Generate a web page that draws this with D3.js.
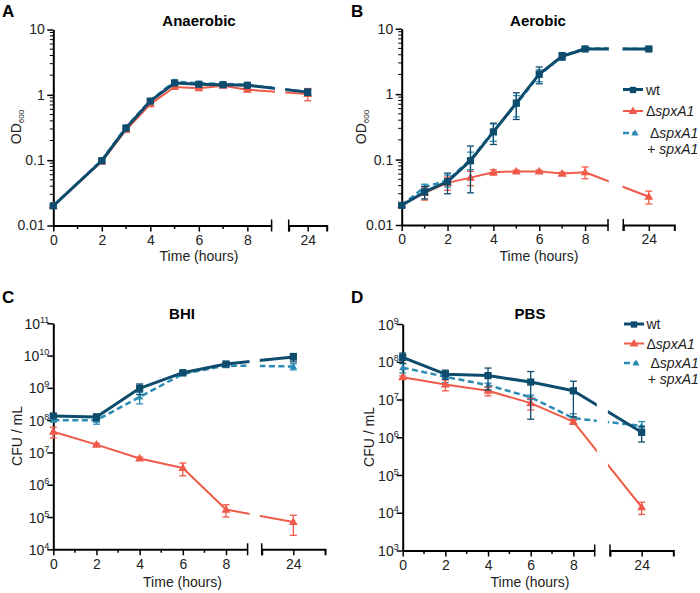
<!DOCTYPE html>
<html><head><meta charset="utf-8">
<script src="https://cdn.jsdelivr.net/npm/d3@7"></script>
<style>body{margin:0;background:#fff} svg{display:block;font-family:"Liberation Sans",Arial,Helvetica,sans-serif}</style>
</head><body><svg id="c" width="700" height="593"></svg>
<script>
// ---------------- DATA ----------------
const seriesNames = ['wt', 'ΔspxA1', 'ΔspxA1 + spxA1'];
const xMajorTicks = [0, 2, 4, 6, 8];
const xTickLabels = ['0', '2', '4', '6', '8'];
const xMinorTicks = [1, 3, 5, 7];
const xLateTicks = [24];
const xLateLabels = ['24'];
const odTicks = [0.01, 0.1, 1, 10];
const odTickLabels = ['0.01', '0.1', '1', '10'];
const bhiExponents = [4, 5, 6, 7, 8, 9, 10, 11];
const pbsExponents = [3, 4, 5, 6, 7, 8, 9];

// A: Anaerobic (OD600)
const hoursAnaerobic = [0, 2, 3, 4, 5, 6, 7, 8, 24];
const anaerobicWt = [0.02, 0.098, 0.31, 0.80, 1.52, 1.45, 1.43, 1.40, 1.10];
const anaerobicWtErr = [0.001, 0.004, 0.02, 0.04, 0.08, 0.06, 0.06, 0.06, 0.12];
const anaerobicDel = [0.02, 0.095, 0.29, 0.72, 1.32, 1.26, 1.38, 1.20, 1.03];
const anaerobicDelErr = [0.001, 0.004, 0.02, 0.04, 0.06, 0.08, 0.05, 0.08, 0.22];
const anaerobicComp = [0.02, 0.10, 0.32, 0.82, 1.60, 1.50, 1.47, 1.42, 1.10];
const anaerobicCompErr = [0.001, 0.004, 0.02, 0.04, 0.08, 0.06, 0.05, 0.06, 0.1];

// B: Aerobic (OD600)
const hoursAerobic = [0, 1, 2, 3, 4, 5, 6, 7, 8, 24];
const aerobicWt = [0.02, 0.032, 0.046, 0.096, 0.265, 0.73, 2.02, 3.8, 4.9, 4.9];
const aerobicWtErr = [0.001, 0.007, 0.016, 0.065, 0.095, 0.32, 0.58, 0.5, 0.25, 0.2];
const aerobicDel = [0.02, 0.031, 0.044, 0.053, 0.064, 0.066, 0.066, 0.061, 0.064, 0.027];
const aerobicDelErr = [0.001, 0.007, 0.01, 0.013, 0.006, 0.003, 0.003, 0.003, 0.013, 0.006];
const aerobicComp = [0.02, 0.038, 0.048, 0.10, 0.27, 0.70, 1.95, 3.8, 5.0, 4.9];
const aerobicCompErr = [0.001, 0.004, 0.01, 0.03, 0.08, 0.25, 0.4, 0.4, 0.3, 0.2];

// C: BHI (CFU / mL)
const hoursCfu = [0, 2, 4, 6, 8, 24];
const bhiWt = [1.35e8, 1.25e8, 9.7e8, 2.95e9, 5.5e9, 9.0e9];
const bhiWtErr = [2e7, 3e7, 3.5e8, 3e8, 6e8, 2.6e9];
const bhiDel = [4.4e7, 1.75e7, 6.5e6, 3.3e6, 1.7e5, 7.0e4];
const bhiDelErr = [1.6e7, 1.5e6, 6e5, 1.4e6, 7e4, 4.3e4];
const bhiComp = [1.0e8, 1.0e8, 5.2e8, 2.7e9, 4.9e9, 4.6e9];
const bhiCompErr = [1e7, 2.5e7, 2e8, 2e8, 4e8, 1e9];

// D: PBS (CFU / mL)
const pbsWt = [1.3e8, 4.7e7, 4.3e7, 2.9e7, 1.7e7, 1.35e6];
const pbsWtErr = [4e7, 1.3e7, 2.5e7, 2.6e7, 1.35e7, 6e5];
const pbsDel = [3.9e7, 2.5e7, 1.7e7, 8.0e6, 2.6e6, 1.4e4];
const pbsDelErr = [3e6, 8e6, 4.5e6, 2.7e6, 3e5, 5e3];
const pbsComp = [7.0e7, 4.0e7, 2.4e7, 1.15e7, 3.2e6, 2.0e6];
const pbsCompErr = [2e7, 1.2e7, 3e6, 1.5e6, 1e6, 6e5];

// ---------------- STYLE / LAYOUT ----------------
const COL = {wt: '#0e4c6e', del: '#f05a48', comp: '#2a8cb5'};
const FONT = 14;

const panels = [
  {letter: 'A', title: 'Anaerobic', ylab: 'OD', ysub: '600', hours: hoursAnaerobic,
   yDomain: [0.01, 10], yTicks: odTicks, yLabels: odTickLabels, minor: true,
   series: [[anaerobicComp, anaerobicCompErr, 'comp'], [anaerobicDel, anaerobicDelErr, 'del'], [anaerobicWt, anaerobicWtErr, 'wt']],
   L: {xl: 53.3, x9: 271.6, s2: [288.7, 326.7], yTop: 29.5, yBot: 225.5, letter: [2, 17], title: [199, 25.5], xlab: [199, 260.5], ylab: [21, 127], gap: 0.3}},
  {letter: 'B', title: 'Aerobic', ylab: 'OD', ysub: '600', hours: hoursAerobic,
   yDomain: [0.01, 10], yTicks: odTicks, yLabels: odTickLabels, minor: true,
   series: [[aerobicComp, aerobicCompErr, 'comp'], [aerobicDel, aerobicDelErr, 'del'], [aerobicWt, aerobicWtErr, 'wt']],
   L: {xl: 401.7, x9: 608, s2: [623.3, 674.3], yTop: 28.7, yBot: 225, letter: [351, 17], title: [538, 25.5], xlab: [539, 260.5], ylab: [366, 127], gap: 0.45,
       legend: {x: 623, tx: 646, rows: [89.5, 111, 133, 148.5]}}},
  {letter: 'C', title: 'BHI', ylab: 'CFU / mL', hours: hoursCfu,
   yDomain: [1e4, 1e11], yTicks: bhiExponents.map(e => Math.pow(10, e)), yExp: bhiExponents, minor: false,
   series: [[bhiComp, bhiCompErr, 'comp'], [bhiDel, bhiDelErr, 'del'], [bhiWt, bhiWtErr, 'wt']],
   L: {xl: 53.3, x9: 247.6, s2: [261.7, 325], yTop: 323.3, yBot: 549.3, letter: [2, 303], title: [182, 319.3], xlab: [182.5, 586.5], ylab: [21.7, 436], gap: 0.36}},
  {letter: 'D', title: 'PBS', ylab: 'CFU / mL', hours: hoursCfu,
   yDomain: [1e3, 1e9], yTicks: pbsExponents.map(e => Math.pow(10, e)), yExp: pbsExponents, minor: false,
   series: [[pbsComp, pbsCompErr, 'comp'], [pbsDel, pbsDelErr, 'del'], [pbsWt, pbsWtErr, 'wt']],
   L: {xl: 402.7, x9: 594.7, s2: [610, 673.3], yTop: 324, yBot: 550.5, letter: [351, 303], title: [530, 319], xlab: [530, 586.5], ylab: [374, 437], gap: 0.36,
       legend: {x: 624, tx: 646.5, rows: [324, 343.5, 363, 378.5]}}}
];

const svg = d3.select('#c');
const defs = svg.append('defs');

function styleKey(k) {
  if (k === 'wt') return {w: 3, dash: null, sym: d3.symbolSquare, size: 52, cap: 3.5};
  if (k === 'del') return {w: 2, dash: null, sym: d3.symbolTriangle, size: 34, cap: 3.5};
  return {w: 2.5, dash: '6,3.5', sym: d3.symbolTriangle, size: 22, cap: 3.5};
}

panels.forEach((p, pi) => {
  const L = p.L;
  const g = svg.append('g');
  const x1 = d3.scaleLinear().domain([0, 9]).range([L.xl, L.x9]);
  const x2 = d3.scaleLinear().domain([22.5, 25.5]).range(L.s2);
  const x = t => (t <= 9 ? x1(t) : x2(t));
  const y = d3.scaleLog().domain(p.yDomain).range([L.yBot, L.yTop]);

  // panel letter & title
  g.append('text').attr('x', L.letter[0]).attr('y', L.letter[1]).attr('font-size', 17).attr('font-weight', 'bold').text(p.letter);
  g.append('text').attr('x', L.title[0]).attr('y', L.title[1]).attr('text-anchor', 'middle').attr('font-size', 15).attr('font-weight', 'bold').text(p.title);

  // x axis segment 1
  const ax1 = g.append('g').attr('transform', `translate(0,${L.yBot})`)
    .call(d3.axisBottom(x1).tickValues(xMajorTicks).tickSizeInner(6).tickSizeOuter(0).tickPadding(3.5)
      .tickFormat((d, i) => xTickLabels[i]));
  const ax2 = g.append('g').attr('transform', `translate(0,${L.yBot})`)
    .call(d3.axisBottom(x2).tickValues(xLateTicks).tickSizeInner(6).tickSizeOuter(6).tickPadding(3.5)
      .tickFormat((d, i) => xLateLabels[i]));
  // minor x ticks
  g.append('g').selectAll('line').data(xMinorTicks).join('line')
    .attr('x1', d => x1(d)).attr('x2', d => x1(d)).attr('y1', L.yBot).attr('y2', L.yBot + 3.5)
    .attr('stroke', '#000').attr('stroke-width', 1.5);
  // break marks
  g.append('g').selectAll('line').data([L.x9, L.s2[0]]).join('line')
    .attr('x1', d => d).attr('x2', d => d).attr('y1', L.yBot - 6).attr('y2', L.yBot + 6)
    .attr('stroke', '#000').attr('stroke-width', 1.5);

  // y axis
  const yAxis = d3.axisLeft(y).tickValues(p.yTicks).tickSizeInner(6).tickSizeOuter(0).tickPadding(p.yExp ? 0 : 2.5);
  if (p.yLabels) yAxis.tickFormat((d, i) => p.yLabels[i]); else yAxis.tickFormat(() => '');
  const ay = g.append('g').attr('transform', `translate(${L.xl},0)`).call(yAxis);
  if (p.yExp) {
    ay.selectAll('.tick text').each(function (d, i) {
      const t = d3.select(this);
      t.text('').attr('x', -4).attr('dy', '0.36em');
      t.append('tspan').text('10');
      t.append('tspan').attr('dy', -6).attr('font-size', 9).text(p.yExp[i]);
    });
  }
  if (p.minor) {
    const minors = [];
    for (let e = -2; e < 1; e++) for (let k = 2; k <= 9; k++) minors.push(k * Math.pow(10, e));
    g.append('g').selectAll('line').data(minors).join('line')
      .attr('x1', L.xl - 3.5).attr('x2', L.xl).attr('y1', d => y(d)).attr('y2', d => y(d))
      .attr('stroke', '#000').attr('stroke-width', 1);
  }
  [ax1, ax2, ay].forEach(a => {
    a.attr('font-size', null).attr('font-family', null);
    a.select('.domain').attr('stroke-width', 2);
    a.selectAll('.tick line').attr('stroke-width', 1.5);
    a.selectAll('.tick text').attr('font-size', FONT).attr('fill', '#222');
  });

  // axis titles
  g.append('text').attr('x', L.xlab[0]).attr('y', L.xlab[1]).attr('text-anchor', 'middle').attr('font-size', FONT).attr('fill', '#222').text('Time (hours)');
  const yl = g.append('text').attr('transform', `translate(${L.ylab[0]},${L.ylab[1]}) rotate(-90)`).attr('text-anchor', 'middle').attr('font-size', FONT).attr('fill', '#222');
  yl.append('tspan').text(p.ylab);
  if (p.ysub) yl.append('tspan').attr('font-size', 8).attr('dy', 3).text(p.ysub);

  // clip for lines (broken axis)
  const gc = (L.x9 + L.s2[0]) / 2, gh = (L.s2[0] - L.x9) * L.gap;
  const cid = 'clip' + pi;
  const cp = defs.append('clipPath').attr('id', cid);
  cp.append('rect').attr('x', L.xl - 20).attr('y', L.yTop - 30).attr('width', gc - gh - (L.xl - 20)).attr('height', L.yBot - L.yTop + 60);
  cp.append('rect').attr('x', gc + gh).attr('y', L.yTop - 30).attr('width', L.s2[1] + 20 - (gc + gh)).attr('height', L.yBot - L.yTop + 60);

  p.series.forEach(([vals, errs, key]) => {
    const st = styleKey(key);
    const col = COL[key];
    const pts = p.hours.map((t, i) => [x(t), y(vals[i])]);
    g.append('path').attr('clip-path', `url(#${cid})`).attr('d', d3.line()(pts))
      .attr('fill', 'none').attr('stroke', col).attr('stroke-width', st.w)
      .attr('stroke-dasharray', st.dash).attr('stroke-linejoin', 'round');
    // error bars
    const eb = g.append('g').attr('stroke', col).attr('stroke-width', 1.3);
    p.hours.forEach((t, i) => {
      const lo = Math.max(vals[i] - errs[i], p.yDomain[0]);
      const hi = vals[i] + errs[i];
      const xx = x(t), ylo = y(lo), yhi = y(hi);
      eb.append('line').attr('x1', xx).attr('x2', xx).attr('y1', ylo).attr('y2', yhi);
      eb.append('line').attr('x1', xx - st.cap).attr('x2', xx + st.cap).attr('y1', yhi).attr('y2', yhi);
      eb.append('line').attr('x1', xx - st.cap).attr('x2', xx + st.cap).attr('y1', ylo).attr('y2', ylo);
    });
    g.append('g').selectAll('path').data(pts).join('path')
      .attr('transform', d => `translate(${d[0]},${d[1] + (st.sym === d3.symbolTriangle ? 0.5 : 0)})`)
      .attr('d', d3.symbol().type(st.sym).size(st.size)).attr('fill', col);
  });

  // legend
  if (L.legend) {
    const lg = L.legend;
    const keys = ['wt', 'del', 'comp'];
    const lgG = g.append('g');
    keys.forEach((k, i) => {
      const st = styleKey(k);
      const yy = lg.rows[i];
      const x0 = lg.x, x1e = k === 'comp' ? lg.x + 14 : lg.x + 20;
      lgG.append('line').attr('x1', x0).attr('x2', x1e).attr('y1', yy).attr('y2', yy)
        .attr('stroke', COL[k]).attr('stroke-width', st.w).attr('stroke-dasharray', st.dash);
      lgG.append('path').attr('transform', `translate(${k === 'comp' ? lg.x + 12 : lg.x + 10},${yy + 0.5})`)
        .attr('d', d3.symbol().type(st.sym).size(k === 'wt' ? 40 : st.size)).attr('fill', COL[k]);
    });
    lgG.append('text').attr('x', lg.tx).attr('y', lg.rows[0] + 5).attr('font-size', FONT).attr('fill', '#222').text(seriesNames[0]);
    const t2 = lgG.append('text').attr('x', lg.tx).attr('y', lg.rows[1] + 5).attr('font-size', FONT).attr('fill', '#222');
    t2.append('tspan').text('Δ');
    t2.append('tspan').attr('font-style', 'italic').text('spxA1');
    const rightEdge = lg.tx + 4 + t2.node().getComputedTextLength();
    const t3 = lgG.append('text').attr('x', rightEdge).attr('y', lg.rows[2] + 5).attr('text-anchor', 'end').attr('font-size', FONT).attr('fill', '#222');
    t3.append('tspan').text('Δ');
    t3.append('tspan').attr('font-style', 'italic').text('spxA1');
    const t4 = lgG.append('text').attr('x', rightEdge).attr('y', lg.rows[3] + 5).attr('text-anchor', 'end').attr('font-size', FONT).attr('fill', '#222');
    t4.append('tspan').text('+ ');
    t4.append('tspan').attr('font-style', 'italic').text('spxA1');
  }
});
</script>
</body></html>
